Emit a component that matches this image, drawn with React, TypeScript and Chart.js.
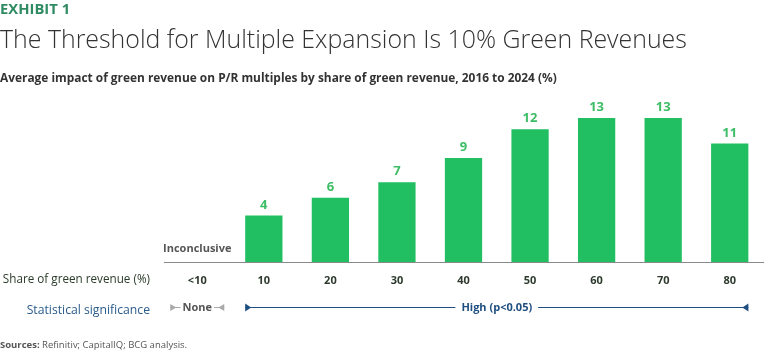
import React, { useEffect, useRef } from "react";
import { Chart, registerables } from "chart.js";

Chart.register(...registerables);

const categories = ["<10", "10", "20", "30", "40", "50", "60", "70", "80"];
const impactValues: (number | null)[] = [null, 4.2, 5.8, 7.2, 9.4, 12.0, 13.0, 13.0, 10.7];
const valueLabels = ["", "4", "6", "7", "9", "12", "13", "13", "11"];
const inconclusiveLabel = "Inconclusive";
const noneLabel = "None";
const highLabel = "High (p<0.05)";
const noneRange = [0, 0];
const highRange = [1, 8];

const FONT = "'Open Sans', 'Noto Sans', sans-serif";
const GREEN = "#21BF61";
const GREEN_TEXT = "#3DBD66";
const NAVY = "#1F4E80";

const overlayPlugin = {
  id: "overlay",
  afterDatasetsDraw(chart: any) {
    const { ctx } = chart;
    const x = chart.scales.x;
    const meta = chart.getDatasetMeta(0);
    ctx.save();
    // value labels
    ctx.font = `bold 13px ${FONT}`;
    ctx.fillStyle = GREEN_TEXT;
    ctx.textAlign = "center";
    ctx.textBaseline = "alphabetic";
    meta.data.forEach((bar: any, i: number) => {
      if (impactValues[i] == null) return;
      ctx.fillText(valueLabels[i], bar.x, bar.y - 7);
    });
    // inconclusive
    ctx.font = `bold 11px ${FONT}`;
    ctx.fillStyle = "#555555";
    ctx.textBaseline = "middle";
    ctx.fillText(inconclusiveLabel, x.getPixelForValue(0), chart.chartArea.bottom - 13);

    const rowY = 307.5;
    // None bracket
    const nc = x.getPixelForValue(noneRange[0]);
    const nl = nc - 27;
    const nr = nc + 27;
    ctx.font = `bold 11px ${FONT}`;
    const nw = ctx.measureText(noneLabel).width;
    ctx.fillStyle = "#555555";
    ctx.fillText(noneLabel, nc, rowY);
    ctx.strokeStyle = "#AAAAAA";
    ctx.fillStyle = "#AAAAAA";
    ctx.lineWidth = 1;
    ctx.beginPath();
    ctx.moveTo(nl, rowY);
    ctx.lineTo(nc - nw / 2 - 2, rowY);
    ctx.moveTo(nc + nw / 2 + 2, rowY);
    ctx.lineTo(nr, rowY);
    ctx.stroke();
    ctx.beginPath();
    ctx.moveTo(nl, rowY - 3.5);
    ctx.lineTo(nl + 6, rowY);
    ctx.lineTo(nl, rowY + 3.5);
    ctx.closePath();
    ctx.fill();
    ctx.beginPath();
    ctx.moveTo(nr, rowY - 3.5);
    ctx.lineTo(nr - 6, rowY);
    ctx.lineTo(nr, rowY + 3.5);
    ctx.closePath();
    ctx.fill();

    // High bracket
    const b1 = meta.data[highRange[0]];
    const b2 = meta.data[highRange[1]];
    const hl = b1.x - b1.width / 2;
    const hr = b2.x + b2.width / 2;
    const hc = (x.getPixelForValue(4) + x.getPixelForValue(5)) / 2;
    ctx.font = `bold 11px ${FONT}`;
    const hw = ctx.measureText(highLabel).width;
    ctx.fillStyle = NAVY;
    ctx.fillText(highLabel, hc, rowY);
    ctx.strokeStyle = NAVY;
    ctx.lineWidth = 1.2;
    ctx.beginPath();
    ctx.moveTo(hl, rowY);
    ctx.lineTo(hc - hw / 2 - 6, rowY);
    ctx.moveTo(hc + hw / 2 + 6, rowY);
    ctx.lineTo(hr, rowY);
    ctx.stroke();
    ctx.beginPath();
    ctx.moveTo(hl, rowY - 4);
    ctx.lineTo(hl + 6, rowY);
    ctx.lineTo(hl, rowY + 4);
    ctx.closePath();
    ctx.fill();
    ctx.beginPath();
    ctx.moveTo(hr, rowY - 4);
    ctx.lineTo(hr - 6, rowY);
    ctx.lineTo(hr, rowY + 4);
    ctx.closePath();
    ctx.fill();
    ctx.restore();
  },
};

export default function App() {
  const canvasRef = useRef<HTMLCanvasElement>(null);

  useEffect(() => {
    document.body.style.margin = "0";
    const chart = new Chart(canvasRef.current!, {
      type: "bar",
      data: {
        labels: categories,
        datasets: [
          {
            data: impactValues as any,
            backgroundColor: GREEN,
            barPercentage: 0.56,
            categoryPercentage: 1,
          },
        ],
      },
      options: {
        animation: false,
        responsive: false,
        maintainAspectRatio: false,
        layout: { padding: { left: 164, right: 5, top: 107, bottom: 66.8 } },
        plugins: { legend: { display: false }, tooltip: { enabled: false } },
        scales: {
          x: {
            grid: { display: false, drawTicks: false },
            border: { display: true, color: "#8A8A8A", width: 1 },
            ticks: {
              color: "#2D3A2D",
              font: { family: FONT, size: 11, weight: "bold" },
              padding: 12,
            },
            afterFit(scale: any) {
              scale.height = 25.2;
            },
          },
          y: { display: false, min: 0, max: 14 },
        },
      },
      plugins: [overlayPlugin],
    });
    return () => chart.destroy();
  }, []);

  const abs = (s: React.CSSProperties): React.CSSProperties => ({
    position: "absolute",
    whiteSpace: "nowrap",
    fontFamily: FONT,
    lineHeight: 1,
    margin: 0,
    ...s,
  });

  return (
    <div style={{ position: "relative", width: 768, height: 354, background: "#fff", overflow: "hidden" }}>
      <canvas ref={canvasRef} width={768} height={354} style={{ position: "absolute", left: 0, top: 0 }} />
      <div style={abs({ left: 0, top: 1, fontSize: 14.8, fontWeight: 700, color: "#2E8B62" })}>EXHIBIT 1</div>
      <div style={abs({ left: 0, top: 26, fontSize: 24.9, fontWeight: 300, color: "#333333" })}>
        The Threshold for Multiple Expansion Is 10% Green Revenues
      </div>
      <div style={abs({ left: 0, top: 72, fontSize: 11.9, fontWeight: 700, color: "#333333" })}>
        Average impact of green revenue on P/R multiples by share of green revenue, 2016 to 2024 (%)
      </div>
      <div style={abs({ right: 618, top: 273, fontSize: 11.7, fontWeight: 400, color: "#2B3B2B" })}>
        Share of green revenue (%)
      </div>
      <div style={abs({ right: 618, top: 303.5, fontSize: 12.2, fontWeight: 400, color: "#2A5B8C" })}>
        Statistical significance
      </div>
      <div style={abs({ left: 0, top: 340, fontSize: 9.5, fontWeight: 400, color: "#555555" })}>
        <b style={{ fontWeight: 700 }}>Sources:</b> Refinitiv; CapitalIQ; BCG analysis.
      </div>
    </div>
  );
}
